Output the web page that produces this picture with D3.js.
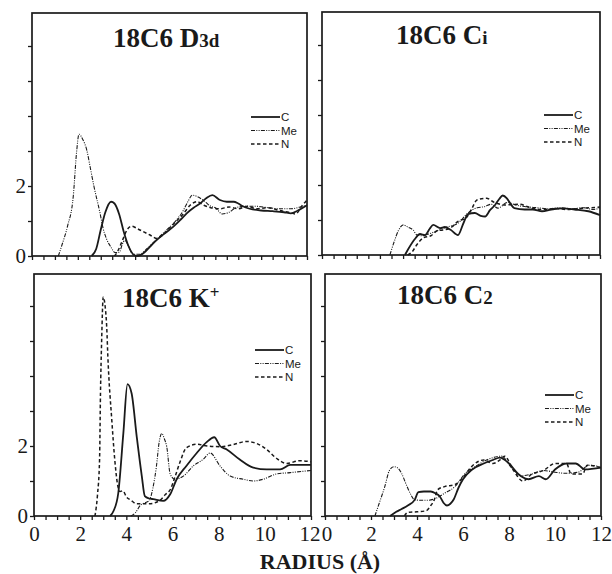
<!DOCTYPE html>
<html><head><meta charset="utf-8">
<script src="https://cdn.jsdelivr.net/npm/d3@7"></script>
<style>
body{margin:0;background:#fff}
svg{display:block}
</style></head><body>
<svg id="chart" width="612" height="574"></svg>
<script>
// Radial distribution functions g(r) of solvent sites (C, Me, N) around 18C6
const radiusTickLabels = [0, 2, 4, 6, 8, 10, 12];
const gTickLabels = [0, 2];
const seriesNames = ["C", "Me", "N"];

// 18C6 D3d
const d3dC = [[2.6,0],[2.8,0.2],[3.0,0.75],[3.2,1.25],[3.45,1.55],[3.6,1.5],[3.8,1.2],[4.0,0.7],[4.2,0.3],[4.45,0.03],[4.6,0],[4.9,0.1],[5.2,0.3],[5.45,0.46],[5.8,0.65],[6.17,0.84],[6.5,1.05],[6.75,1.22],[7.05,1.38],[7.33,1.5],[7.6,1.65],[7.87,1.74],[8.2,1.6],[8.5,1.55],[8.8,1.55],[9.0,1.5],[9.2,1.42],[9.5,1.35],[10,1.3],[10.5,1.28],[11,1.25],[11.3,1.22],[11.6,1.3],[12,1.45]];
const d3dMe = [[1.15,0],[1.3,0.3],[1.55,0.85],[1.8,1.7],[1.95,3.0],[2.05,3.48],[2.2,3.35],[2.4,3.0],[2.55,2.5],[2.7,2.0],[2.97,1.22],[3.1,0.8],[3.27,0.46],[3.45,0.25],[3.62,0.1],[3.8,0.1],[3.95,0.35],[4.05,0.45],[4.2,0.3],[4.4,0.05],[4.7,0.05],[5.0,0.2],[5.4,0.45],[5.8,0.7],[6.2,0.95],[6.6,1.3],[6.8,1.55],[7.0,1.74],[7.2,1.7],[7.5,1.58],[7.8,1.42],[8.0,1.38],[8.3,1.2],[8.6,1.25],[8.9,1.38],[9.3,1.42],[9.8,1.42],[10.3,1.38],[10.8,1.35],[11.3,1.35],[11.7,1.4],[12,1.45]];
const d3dN = [[3.6,0],[3.75,0.15],[3.95,0.45],[4.15,0.75],[4.35,0.85],[4.6,0.78],[4.9,0.68],[5.15,0.6],[5.45,0.5],[5.7,0.6],[6.0,0.8],[6.3,1.0],[6.6,1.2],[6.9,1.45],[7.2,1.55],[7.5,1.45],[7.8,1.38],[8.2,1.35],[8.6,1.4],[9.0,1.35],[9.4,1.42],[9.8,1.35],[10.3,1.38],[10.8,1.3],[11.2,1.25],[11.5,1.2],[11.8,1.45],[12,1.6]];

// 18C6 Ci
const ciC = [[3.58,0],[3.75,0.2],[4.0,0.45],[4.23,0.6],[4.45,0.57],[4.65,0.75],[4.8,0.86],[5.1,0.77],[5.3,0.8],[5.55,0.72],[5.87,0.57],[6.1,0.9],[6.3,1.17],[6.6,1.2],[6.85,1.12],[7.04,1.1],[7.25,1.28],[7.47,1.43],[7.65,1.6],[7.8,1.7],[7.98,1.62],[8.15,1.45],[8.3,1.34],[8.75,1.3],[9.1,1.3],[9.5,1.25],[9.9,1.3],[10.4,1.33],[10.9,1.3],[11.5,1.25],[12,1.14]];
const ciMe = [[2.93,0],[3.1,0.35],[3.3,0.7],[3.51,0.86],[3.7,0.8],[3.94,0.71],[4.1,0.57],[4.3,0.55],[4.6,0.6],[5.0,0.7],[5.4,0.8],[5.85,0.9],[6.3,1.2],[6.7,1.35],[7.0,1.38],[7.3,1.45],[7.6,1.34],[8.0,1.5],[8.4,1.42],[8.8,1.38],[9.3,1.35],[9.8,1.32],[10.3,1.35],[10.8,1.32],[11.3,1.35],[11.7,1.3],[12,1.35]];
const ciN = [[3.7,0],[3.9,0.1],[4.1,0.3],[4.4,0.5],[4.7,0.55],[5.0,0.7],[5.3,0.72],[5.6,0.8],[5.85,0.95],[6.0,1.0],[6.2,1.05],[6.45,1.3],[6.65,1.55],[6.8,1.6],[7.1,1.62],[7.45,1.5],[7.9,1.43],[8.5,1.45],[9.1,1.33],[9.6,1.3],[10.1,1.33],[10.6,1.3],[11.1,1.33],[11.6,1.35],[12,1.37]];

// 18C6 K+
const kC = [[3.3,0],[3.45,0.15],[3.65,0.65],[3.87,2.36],[4.05,3.77],[4.23,3.5],[4.45,2.27],[4.67,1.14],[4.8,0.57],[5.0,0.5],[5.17,0.48],[5.6,0.43],[5.9,0.62],[6.18,1.05],[6.6,1.43],[7.05,1.8],[7.48,2.11],[7.81,2.25],[8.06,2.0],[8.35,1.9],[8.9,1.62],[9.5,1.38],[10.08,1.33],[10.66,1.33],[11.1,1.46],[12,1.46]];
const kMe = [[4.2,0],[4.4,0.1],[4.6,0.3],[5.0,0.45],[5.15,0.8],[5.3,1.4],[5.42,2.1],[5.53,2.36],[5.65,2.2],[5.75,1.98],[5.9,1.2],[6.1,1.05],[6.47,1.14],[6.9,1.43],[7.33,1.62],[7.63,1.8],[8.06,1.43],[8.5,1.14],[9.07,1.05],[9.5,1.0],[9.93,1.05],[10.5,1.2],[11.1,1.24],[12,1.3]];
const kN = [[2.64,0],[2.75,0.6],[2.84,1.6],[2.88,3.5],[2.93,5.0],[3.0,6.26],[3.08,6.0],[3.15,5.4],[3.2,4.55],[3.37,2.74],[3.5,1.6],[3.62,0.9],[3.73,0.7],[3.85,0.72],[4.0,0.55],[4.2,0.45],[4.45,0.35],[5.0,0.35],[5.46,0.45],[5.7,0.62],[5.9,0.75],[6.1,1.1],[6.33,1.55],[6.6,1.95],[7.05,2.05],[7.5,2.0],[8.1,1.98],[8.63,2.04],[9.2,2.13],[9.65,2.07],[10.08,1.9],[10.5,1.65],[10.95,1.5],[11.5,1.58],[12,1.55]];

// 18C6 C2
const c2C = [[2.83,0],[3.1,0.12],[3.33,0.2],[3.6,0.3],[3.9,0.46],[4.06,0.68],[4.3,0.7],[4.6,0.7],[4.8,0.65],[5.0,0.55],[5.15,0.38],[5.3,0.3],[5.45,0.35],[5.6,0.48],[5.8,0.8],[6.0,1.05],[6.4,1.33],[6.9,1.5],[7.3,1.6],[7.6,1.67],[8.0,1.5],[8.4,1.2],[8.85,1.05],[9.3,1.14],[9.6,1.05],[10.0,1.33],[10.5,1.5],[10.9,1.5],[11.3,1.33],[12,1.38]];
const c2Me = [[2.17,0],[2.35,0.35],[2.6,0.84],[2.8,1.3],[3.0,1.41],[3.15,1.38],[3.33,1.22],[3.5,0.95],[3.7,0.65],[3.9,0.46],[4.2,0.45],[4.5,0.45],[4.8,0.5],[5.2,0.65],[5.65,0.84],[6.1,1.22],[6.5,1.4],[7.1,1.62],[7.68,1.71],[8.1,1.38],[8.55,1.15],[9.0,1.2],[9.5,1.3],[10.0,1.25],[10.5,1.22],[11.0,1.25],[11.5,1.45],[12,1.4]];
const c2N = [[3.45,0],[3.6,0.1],[4.0,0.12],[4.4,0.15],[4.6,0.3],[4.75,0.46],[4.9,0.75],[5.2,0.84],[5.65,0.9],[6.0,1.1],[6.4,1.43],[6.9,1.6],[7.3,1.5],[7.6,1.6],[7.8,1.71],[8.2,1.3],[8.6,1.0],[9.0,1.2],[9.5,1.3],[10.0,1.5],[10.5,1.5],[10.7,1.2],[11.2,1.2],[11.4,1.45],[12,1.38]];

const ink = "#1a1a1a";
const styles = {
  C:  {width: 1.8, dash: null},
  Me: {width: 1.1, dash: "4,1.3,1,1.3,1,1.3"},
  N:  {width: 1.5, dash: "3.5,2.5"}
};

const panels = [
  {title: "18C6 D", sub: "3d", sup: null, x: 32, y: 13, w: 275, h: 243, data: [d3dC, d3dMe, d3dN], tx: 113, ty: 47, ly: 104, xLab: false, yLab: true, edgeNudge: 0},
  {title: "18C6 C", sub: "i", sup: null, x: 322, y: 12, w: 278, h: 243, data: [ciC, ciMe, ciN], tx: 396, ty: 44, ly: 103, xLab: false, yLab: false, edgeNudge: 0},
  {title: "18C6 K", sub: null, sup: "+", x: 34, y: 274, w: 277, h: 242, data: [kC, kMe, kN], tx: 122, ty: 307, ly: 76, xLab: true, yLab: true, edgeNudge: -1.5},
  {title: "18C6 C", sub: "2", sup: null, x: 325, y: 274, w: 276, h: 242, data: [c2C, c2Me, c2N], tx: 397, ty: 304, ly: 121, xLab: true, yLab: false, edgeNudge: 1.5}
];

const svg = d3.select("#chart");
const serif = "'Liberation Serif', 'Times New Roman', serif";
const sans = "'Liberation Sans', Arial, sans-serif";

panels.forEach(p => {
  const g = svg.append("g").attr("transform", `translate(${p.x},${p.y})`);
  const x = d3.scaleLinear().domain([0, 12]).range([0, p.w]);
  const y = d3.scaleLinear().domain([0, p.h / 35]).range([p.h, 0]);

  // curves
  const line = d3.line().x(d => x(d[0])).y(d => y(d[1])).curve(d3.curveMonotoneX);
  p.data.forEach((s, i) => {
    const st = styles[seriesNames[i]];
    g.append("path").datum(s).attr("d", line)
      .attr("fill", "none").attr("stroke", ink)
      .attr("stroke-width", st.width)
      .attr("stroke-dasharray", st.dash)
      .attr("stroke-linejoin", "round");
  });

  // x axis: ticks every 0.5 Å
  const xa = d3.axisBottom(x).tickValues(d3.range(0, 12.001, 0.5)).tickSize(4).tickSizeOuter(0)
    .tickFormat(d => (p.xLab && radiusTickLabels.includes(d)) ? d : "");
  const gx = g.append("g").attr("transform", `translate(0,${p.h})`).call(xa);
  gx.select(".domain").remove();
  gx.selectAll(".tick line").attr("stroke", ink).attr("stroke-width", 1.3);
  gx.selectAll(".tick text").attr("font-family", serif).attr("font-size", 21)
    .attr("fill", ink).attr("y", 10)
    // the 12 of the left panel and the 0 of the right panel sit side by side
    .attr("dx", d => (p.edgeNudge < 0 && d === 12) || (p.edgeNudge > 0 && d === 0) ? p.edgeNudge : 0);

  // y axis: ticks every unit
  const ya = d3.axisLeft(y).tickValues(d3.range(0, 7, 1)).tickSize(4).tickSizeOuter(0)
    .tickFormat(d => (p.yLab && gTickLabels.includes(d)) ? d : "");
  const gy = g.append("g").call(ya);
  gy.select(".domain").remove();
  gy.selectAll(".tick line").attr("stroke", ink).attr("stroke-width", 1.3);
  gy.selectAll(".tick text").attr("font-family", serif).attr("font-size", 21)
    .attr("fill", ink).attr("x", -6);

  // frame
  g.append("rect").attr("width", p.w).attr("height", p.h)
    .attr("fill", "none").attr("stroke", ink).attr("stroke-width", 1.7);

  // title
  const t = svg.append("text").attr("x", p.tx).attr("y", p.ty)
    .attr("font-family", serif).attr("font-weight", "bold").attr("font-size", 27).attr("fill", ink);
  t.append("tspan").text(p.title);
  if (p.sub) t.append("tspan").attr("font-size", 19).text(p.sub);
  if (p.sup) t.append("tspan").attr("font-size", 17).attr("dy", -9).text(p.sup);

  // legend
  const lg = g.append("g").attr("transform", `translate(${p.w - 56},${p.ly})`);
  seriesNames.forEach((n, i) => {
    const st = styles[n];
    lg.append("line").attr("x1", 0).attr("x2", 29).attr("y1", i * 13.5).attr("y2", i * 13.5)
      .attr("stroke", ink).attr("stroke-width", st.width).attr("stroke-dasharray", st.dash);
    lg.append("text").attr("x", 30).attr("y", i * 13.5 + 4.2)
      .attr("font-family", sans).attr("font-size", 11.5).attr("fill", ink).text(n);
  });
});

// shared x-axis title
svg.append("text").attr("x", 320).attr("y", 569).attr("text-anchor", "middle")
  .attr("font-family", serif).attr("font-weight", "bold").attr("font-size", 22).attr("fill", ink)
  .text("RADIUS (Å)");
</script></body></html>
